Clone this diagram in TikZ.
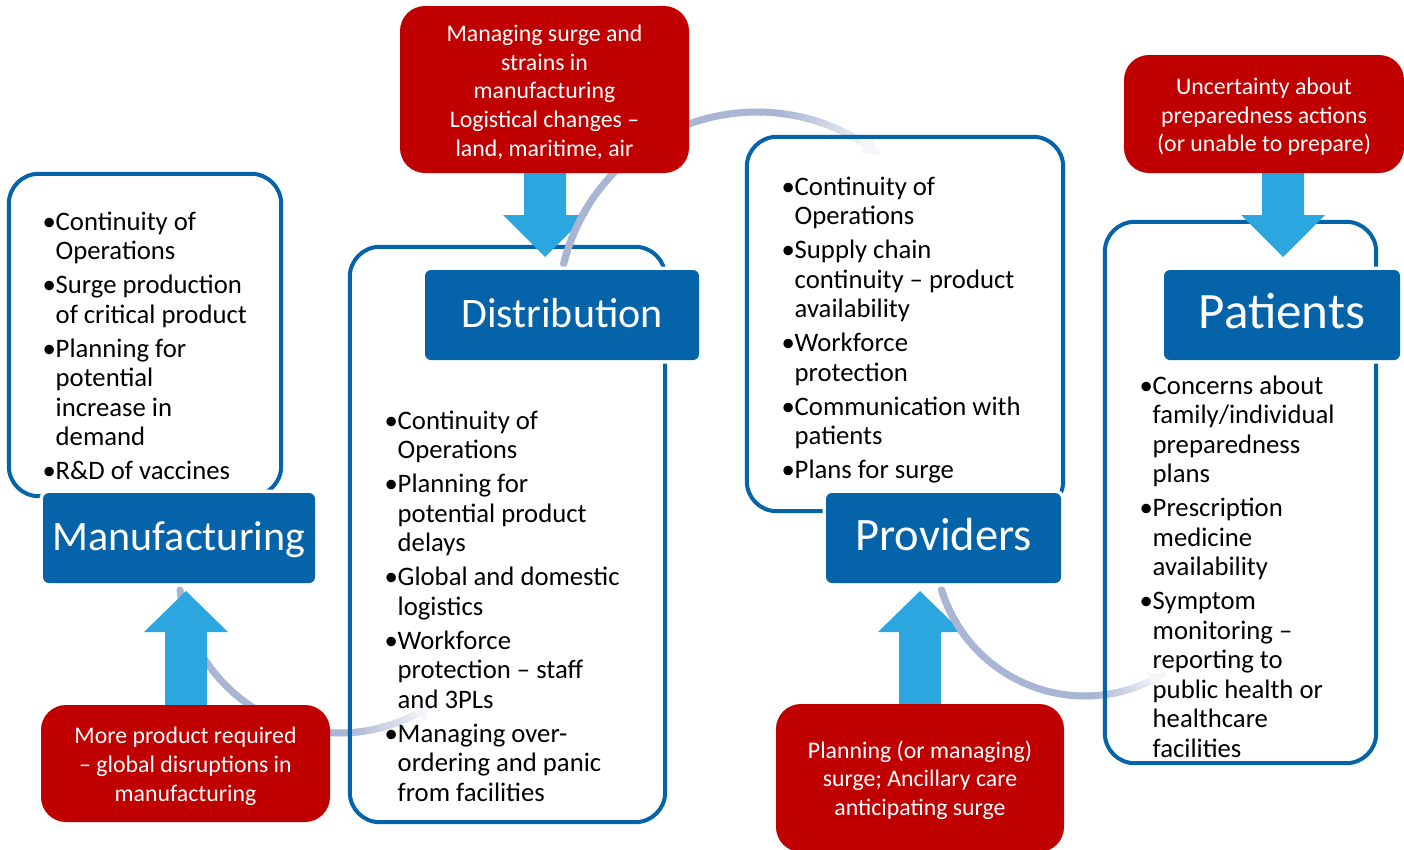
\documentclass[tikz,border=0pt]{standalone}
\usepackage{fontspec}
\setmainfont{Carlito}
\usetikzlibrary{arrows.meta}
\definecolor{blueD}{HTML}{0563AA}
\definecolor{redD}{HTML}{C00000}
\definecolor{arrowB}{HTML}{2CA6DF}
\definecolor{arcG}{HTML}{A9B6D3}
\newcommand\bitem{\makebox[12.5pt][l]{\hspace{-0.5pt}•}}
\newcommand\bcont{\hspace*{12.5pt}}
\newcommand\firststrut{\rule{0pt}{22pt}}
\newcommand\redstrut{\rule{0pt}{22pt}}
% fading circular connector: cx, cy, r, start angle, end angle
\newcommand\fadearc[5]{%
  \foreach \kk in {0,...,59}{%
    \pgfmathsetmacro\angA{#4+(#5-#4)*\kk/60}%
    \pgfmathsetmacro\angB{#4+(#5-#4)*(\kk+1)/60}%
    \pgfmathsetmacro\pcf{\kk<44 ? 100 : 100-(\kk-44)*5.8}%
    \draw[arcline, draw=arcG!\pcf!white] ({#1+#3*cos(\angA)},{#2+#3*sin(\angA)}) -- ({#1+#3*cos(\angB)},{#2+#3*sin(\angB)});%
  }%
  \pgfmathsetmacro\angC{#5-(#5-#4)*3/60}%
  \draw[line width=7pt, draw=arcG!12!white, -{Triangle[width=20pt,length=13pt]}] ({#1+#3*cos(\angC)},{#2+#3*sin(\angC)}) -- ({#1+#3*cos(#5)},{#2+#3*sin(#5)});%
}
\newcommand\uparr[1]{\fill[bigarrow] (#1) -- ++(42,41) -- ++(-21,0) -- ++(0,89) -- ++(-42,0) -- ++(0,-89) -- ++(-21,0) -- cycle;}
\newcommand\downarr[1]{\fill[bigarrow] (#1) -- ++(42,-42) -- ++(-21,0) -- ++(0,-60) -- ++(-42,0) -- ++(0,60) -- ++(-21,0) -- cycle;}
\begin{document}
\begin{tikzpicture}[x=1pt,y=-1pt,
  wfill/.style={fill=white, rounded corners=30pt, inner sep=0pt},
  wline/.style={draw=blueD, line width=4pt, rounded corners=30pt},
  lbl/.style={fill=blueD, rounded corners=6pt, text=white, inner sep=0pt,
              preaction={draw=white, line width=7pt}, text height=24pt, text depth=0pt},
  redbox/.style={fill=redD, rounded corners=25pt, text=white, align=center, inner sep=0pt,
                 font=\fontsize{23.8}{28.7}\selectfont},
  blist/.style={anchor=north west, inner sep=0pt, align=left,
                font=\fontsize{26.7}{29.5}\selectfont},
  bigarrow/.style={fill=arrowB},
  arcline/.style={line width=7pt, line cap=round}
]
\useasboundingbox[fill=white] (0,0) rectangle (1404,849);

% white boxes (fill)
\node[wfill, minimum width=272pt, minimum height=322pt] (manbox)  at (145,335) {};
\node[wfill, minimum width=315pt, minimum height=575pt] (distbox) at (507.5,534.5) {};
\node[wfill, minimum width=316pt, minimum height=374pt] (provbox) at (905,324) {};
\node[wfill, minimum width=271pt, minimum height=541pt] (patbox)  at (1240.5,492.5) {};

% connectors (fading arcs)
\fadearc{340}{572}{161}{173.6}{56}
\fadearc{757}{311}{199}{-166.4}{-53}
\fadearc{1085}{546}{150}{163}{59}

% box outlines
\draw[wline] (manbox.north west) rectangle (manbox.south east);
\draw[wline] (distbox.north west) rectangle (distbox.south east);
\draw[wline] (provbox.north west) rectangle (provbox.south east);
\draw[wline] (patbox.north west) rectangle (patbox.south east);

% block arrows
\coordinate (mantip) at (186,591);
\coordinate (disttip) at (545,257);
\coordinate (provtip) at (920,591);
\coordinate (pattip) at (1283,257);
\uparr{mantip}
\downarr{disttip}
\uparr{provtip}
\downarr{pattip}

% arc parts lying over the arrow heads
\begin{scope}
\clip (500,170) rectangle (592,262);
\fadearc{757}{311}{199}{-166.4}{-53}
\end{scope}
\begin{scope}
\clip (875,585) rectangle (966,640);
\fadearc{1085}{546}{150}{163}{59}
\end{scope}

% red boxes
\node[redbox, minimum width=289pt, minimum height=167pt] (distred) at (544.5,89.5)
  {\redstrut Managing surge and\\strains in\\manufacturing\\Logistical changes –\\land, maritime, air};
\node[redbox, minimum width=280pt, minimum height=118pt] (patred) at (1264,114)
  {\redstrut Uncertainty about\\preparedness actions\\(or unable to prepare)};
\node[redbox, minimum width=289pt, minimum height=117pt] (manred) at (185.5,763.5)
  {\redstrut More product required\\– global disruptions in\\manufacturing};
\node[redbox, minimum width=288pt, minimum height=148pt] (provred) at (920,778)
  {\redstrut Planning (or managing)\\surge; Ancillary care\\anticipating surge};

% labels
\node[lbl, minimum width=272pt, minimum height=90pt, font=\fontsize{42}{50}\selectfont] (man) at (179,538) {Manufacturing};
\node[lbl, minimum width=274pt, minimum height=90pt, font=\fontsize{42}{50}\selectfont] (dist) at (562,315) {Distribution};
\node[lbl, minimum width=235pt, minimum height=90pt, font=\fontsize{46.5}{54}\selectfont] (prov) at (943.5,538) {Providers};
\node[lbl, minimum width=236pt, minimum height=90pt, font=\fontsize{51}{60}\selectfont, text height=26pt] (pat) at (1282,315) {Patients};

% bullet lists
\node[blist] (mantext) at (43,208) {\firststrut\bitem Continuity of\\ \bcont Operations\\[4.5pt]
  \bitem Surge production\\ \bcont of critical product\\[4.5pt]
  \bitem Planning for\\ \bcont potential\\ \bcont increase in\\ \bcont demand\\[4.5pt]
  \bitem R\&D of vaccines};
\node[blist] (disttext) at (385,407) {\firststrut\bitem Continuity of\\ \bcont Operations\\[4.5pt]
  \bitem Planning for\\ \bcont potential product\\ \bcont delays\\[4.5pt]
  \bitem Global and domestic\\ \bcont logistics\\[4.5pt]
  \bitem Workforce\\ \bcont protection – staff\\ \bcont and 3PLs\\[4.5pt]
  \bitem Managing over-\\ \bcont ordering and panic\\ \bcont from facilities};
\node[blist] (provtext) at (782,173) {\firststrut\bitem Continuity of\\ \bcont Operations\\[4.5pt]
  \bitem Supply chain\\ \bcont continuity – product\\ \bcont availability\\[4.5pt]
  \bitem Workforce\\ \bcont protection\\[4.5pt]
  \bitem Communication with\\ \bcont patients\\[4.5pt]
  \bitem Plans for surge};
\node[blist] (pattext) at (1140,372) {\firststrut\bitem Concerns about\\ \bcont family/individual\\ \bcont preparedness\\ \bcont plans\\[4.5pt]
  \bitem Prescription\\ \bcont medicine\\ \bcont availability\\[4.5pt]
  \bitem Symptom\\ \bcont monitoring –\\ \bcont reporting to\\ \bcont public health or\\ \bcont healthcare\\ \bcont facilities};
\end{tikzpicture}
\end{document}
